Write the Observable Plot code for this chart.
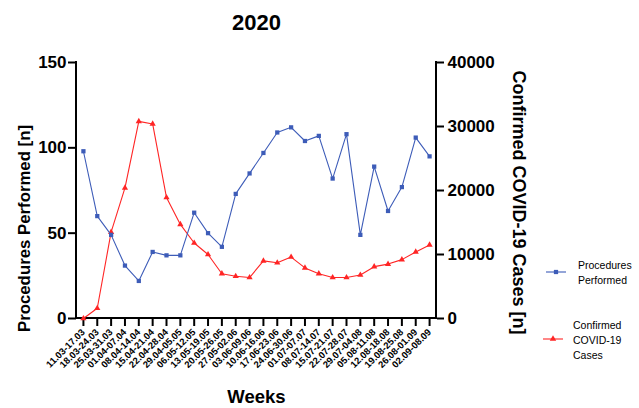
<!DOCTYPE html>
<html>
<head>
<meta charset="utf-8">
<script src="https://cdn.jsdelivr.net/npm/d3@7"></script>
<script src="https://cdn.jsdelivr.net/npm/@observablehq/plot@0.6"></script>
<style>
  html, body { margin: 0; padding: 0; background: #fff; }
  #wrap { position: relative; width: 639px; height: 408px; font-family: "Liberation Sans", Arial, sans-serif; }
  #wrap svg.plot { position: absolute; left: 0; top: 0; }
  .leg { position: absolute; font-size: 10.5px; line-height: 15px; color: #000; font-family: "Liberation Sans", Arial, sans-serif; }
  .legsym { position: absolute; }
</style>
</head>
<body>
<div id="wrap"></div>
<script>
const weeks = ["11.03-17.03","18.03-24.03","25.03-31.03","01.04-07.04","08.04-14.04","15.04-21.04","22.04-28.04","29.04-05.05","06.05-12.05","13.05-19.05","20.05-26.05","27.05-02.06","03.06-09.06","10.06-16.06","17.06-23.06","24.06-30.06","01.07-07.07","08.07-14.07","15.07-21.07","22.07-28.07","29.07-04.08","05.08-11.08","12.08-18.08","19.08-25.08","26.08-01.09","02.09-08.09"];
const procedures = [98,60,49,31,22,39,37,37,62,50,42,73,85,97,109,112,104,107,82,108,49,89,63,77,106,95];
const cases = [0,1600,13500,20400,30800,30400,18900,14700,11800,10000,7000,6600,6400,9000,8700,9600,7900,7000,6400,6400,6800,8100,8500,9200,10400,11500];
const leftTicks = [0,50,100,150];
const rightTicks = [0,10000,20000,30000,40000];
const title = "2020";
const xLabel = "Weeks";
const yLabel = "Procedures Performed [n]";
const y2Label = "Confirmed COVID-19 Cases [n]";
const seriesNames = ["Procedures\nPerformed", "Confirmed\nCOVID-19\nCases"];

const blue = "#3d5cb8";
const red = "#ff2525";

const y2 = d3.scaleLinear([0, 40000], [0, 150]);
const procData = weeks.map((w, i) => ({week: w, value: procedures[i]}));
const caseData = weeks.map((w, i) => ({week: w, value: y2(cases[i])}));

const axisLines = (index, scales, values, dims) => {
  const g = d3.create("svg:g").attr("stroke", "black").attr("stroke-width", 2).attr("fill", "none");
  const l = dims.marginLeft, r = dims.width - dims.marginRight, t = dims.marginTop, b = dims.height - dims.marginBottom;
  g.append("line").attr("x1", l).attr("x2", l).attr("y1", t - 1).attr("y2", b + 1);
  g.append("line").attr("x1", r).attr("x2", r).attr("y1", t - 1).attr("y2", b + 1);
  g.append("line").attr("x1", l - 1).attr("x2", r + 1).attr("y1", b).attr("y2", b);
  return g.node();
};

const plot = Plot.plot({
  width: 639,
  height: 408,
  marginLeft: 76,
  marginRight: 203,
  marginTop: 62,
  marginBottom: 90,
  style: {fontFamily: "'Liberation Sans', Arial, sans-serif", fontWeight: "bold", background: "white", overflow: "visible"},
  x: {type: "point", domain: weeks, padding: 0.5, round: false},
  y: {domain: [0, 150]},
  marks: [
    Plot.axisX({tickRotate: -45, tickSize: 8, tickPadding: 4, fontSize: 9.5, fontWeight: "bold", strokeWidth: 2, label: null}),
    Plot.axisY(leftTicks, {anchor: "left", tickSize: 8, tickPadding: 2, fontSize: 17, fontWeight: "bold", strokeWidth: 2, label: null}),
    Plot.axisY(rightTicks, {anchor: "right", y: d => y2(d), tickFormat: d => String(d), tickSize: 7, tickPadding: 4, fontSize: 17, fontWeight: "bold", strokeWidth: 2, label: null}),
    axisLines,
    Plot.line(caseData, {x: "week", y: "value", stroke: red, strokeWidth: 1.1}),
    Plot.dot(caseData, {x: "week", y: "value", symbol: "triangle", r: 2.3, fill: red, stroke: null}),
    Plot.line(procData, {x: "week", y: "value", stroke: blue, strokeWidth: 1.1}),
    Plot.dot(procData, {x: "week", y: "value", symbol: "square", r: 2.4, fill: blue, stroke: null}),
    Plot.text([title], {frameAnchor: "top", dy: -40, fontSize: 22, fontWeight: "bold", lineAnchor: "middle", textAnchor: "middle"}),
    Plot.text([xLabel], {frameAnchor: "bottom", dy: 79, fontSize: 18.5, fontWeight: "bold", lineAnchor: "middle", textAnchor: "middle"}),
    Plot.text([yLabel], {frameAnchor: "left", dx: -52, dy: 38, rotate: -90, fontSize: 16.8, fontWeight: "bold", lineAnchor: "middle", textAnchor: "middle"}),
    Plot.text([y2Label], {frameAnchor: "right", dx: 82, dy: 12, rotate: 90, fontSize: 18, fontWeight: "bold", lineAnchor: "middle", textAnchor: "middle"})
  ]
});
plot.classList.add("plot");
const wrap = document.getElementById("wrap");
wrap.appendChild(plot);

function legendItem(name, color, symbol, symX, symY, textX, textY) {
  const s = d3.select(wrap).append("svg").attr("class", "legsym")
    .attr("width", 24).attr("height", 10)
    .style("left", symX + "px").style("top", (symY - 5) + "px");
  s.append("line").attr("x1", 0).attr("x2", 20).attr("y1", 5).attr("y2", 5).attr("stroke", color).attr("stroke-width", 1.1);
  s.append("path").attr("transform", "translate(10,5)").attr("fill", color)
    .attr("d", d3.symbol(symbol === "square" ? d3.symbolSquare : d3.symbolTriangle, 18)());
  const t = d3.select(wrap).append("div").attr("class", "leg")
    .style("left", textX + "px").style("top", textY + "px");
  name.split("\n").forEach(line => t.append("div").text(line));
}
legendItem(seriesNames[0], blue, "square", 546, 272, 578, 258);
legendItem(seriesNames[1], red, "triangle", 543, 339, 573, 318);
</script>
</body>
</html>
